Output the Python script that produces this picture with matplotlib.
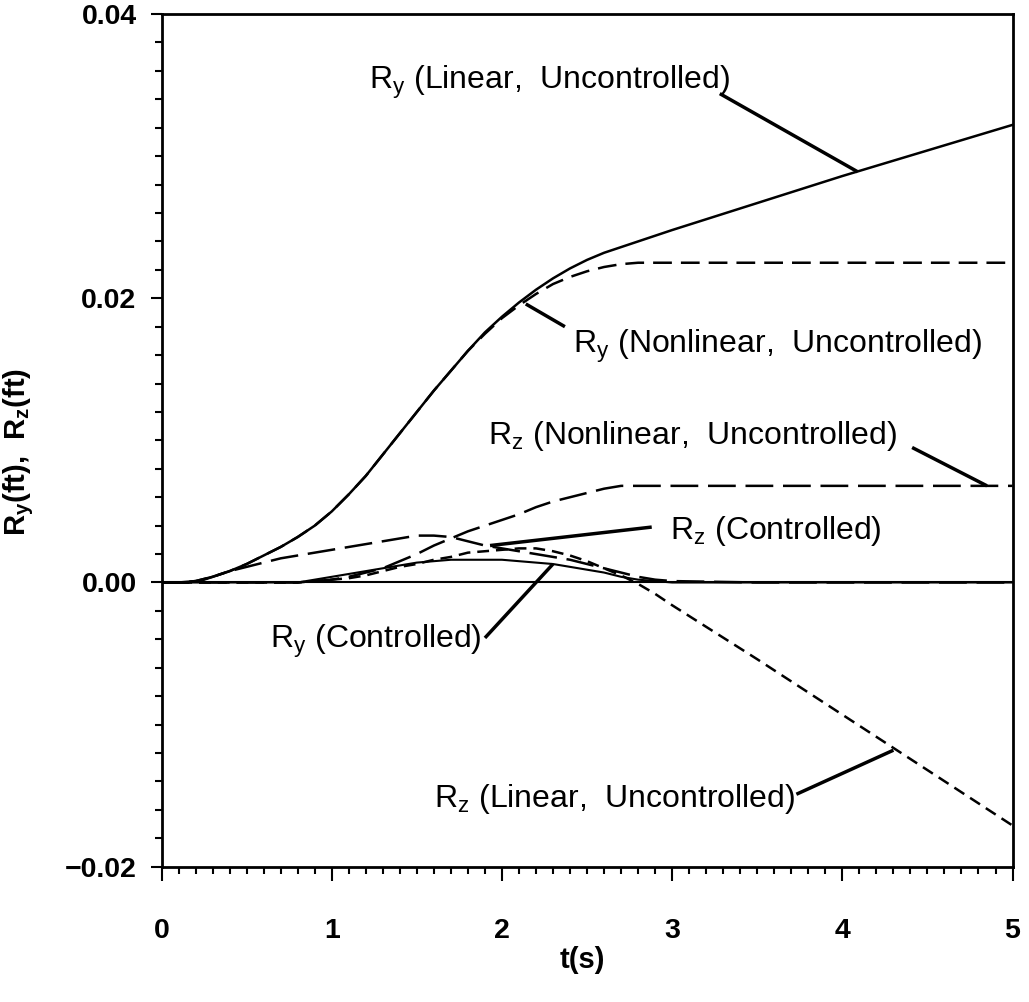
import numpy as np
import matplotlib
matplotlib.use("Agg")
import matplotlib.pyplot as plt
from matplotlib.ticker import MultipleLocator, FuncFormatter

plt.rcParams['font.family'] = ['Liberation Sans', 'DejaVu Sans']
plt.rcParams['mathtext.fontset'] = 'custom'
plt.rcParams['mathtext.rm'] = 'Liberation Sans'
plt.rcParams['lines.scale_dashes'] = False

# time samples (s)
t = [0.0, 0.1, 0.2, 0.3, 0.4, 0.5, 0.6, 0.7, 0.8, 0.9,
     1.0, 1.1, 1.2, 1.3, 1.4, 1.5, 1.6, 1.7, 1.8, 1.9,
     2.0, 2.1, 2.2, 2.3, 2.4, 2.5, 2.6, 2.7, 2.8, 2.9,
     3.0, 3.5, 4.0, 4.5, 5.0]

# Ry, linear model, no control
ry_lin = [0, 0, 0.0001, 0.0004, 0.0008, 0.0013, 0.0019, 0.0025, 0.0032, 0.0040,
          0.0050, 0.0062, 0.0075, 0.0090, 0.0105, 0.0120, 0.0135, 0.0149, 0.0163, 0.0176,
          0.0187, 0.0197, 0.0206, 0.0214, 0.0221, 0.0227, 0.0232, 0.0236, 0.0240, 0.0244,
          0.0248, 0.0267, 0.0286, 0.0304, 0.0322]

# Ry, nonlinear model, no control
ry_nl = [0, 0, 0.0001, 0.0004, 0.0008, 0.0013, 0.0019, 0.0025, 0.0032, 0.0040,
         0.0050, 0.0062, 0.0075, 0.0090, 0.0105, 0.0120, 0.0135, 0.0149, 0.0163, 0.0175,
         0.0186, 0.0195, 0.0203, 0.0210, 0.0215, 0.0219, 0.0222, 0.0224, 0.0225, 0.0225,
         0.0225, 0.0225, 0.0225, 0.0225, 0.0225]

# Rz, nonlinear model, no control
rz_nl = [0, 0, 0, 0, 0, 0, 0, 0, 0, 0.0001,
         0.0002, 0.0004, 0.0007, 0.0010, 0.0015, 0.0020, 0.0026, 0.0031, 0.0036, 0.0040,
         0.0044, 0.0048, 0.0053, 0.0057, 0.0060, 0.0063, 0.0066, 0.0068, 0.0068, 0.0068,
         0.0068, 0.0068, 0.0068, 0.0068, 0.0068]

# Rz, linear model, no control
rz_lin = [0, 0, 0, 0, 0, 0, 0, 0, 0, 0.0001,
          0.0002, 0.0003, 0.0005, 0.0008, 0.0011, 0.0013, 0.0016, 0.0018, 0.0021, 0.0022,
          0.0023, 0.0024, 0.0024, 0.0022, 0.0019, 0.0015, 0.0010, 0.0005, -0.0001, -0.0008,
          -0.0016, -0.0054, -0.0093, -0.0132, -0.0171]

# controlled responses
rz_ctrl = [0, 0, 0, 0.0004, 0.0008, 0.0011, 0.0014, 0.0017, 0.0019, 0.0021,
           0.0023, 0.0025, 0.0027, 0.0029, 0.0031, 0.0033, 0.0033, 0.0032, 0.0029, 0.0026,
           0.0024, 0.0022, 0.0020, 0.0018, 0.0016, 0.0013, 0.0010, 0.0007, 0.0004, 0.0002,
           0.0001, 0, 0, 0, 0]

ry_ctrl = [0, 0, 0, 0, 0, 0, 0, 0, 0, 0.0002,
           0.0004, 0.0006, 0.0008, 0.0010, 0.0012, 0.0014, 0.0015, 0.0016, 0.0016, 0.0016,
           0.0016, 0.0015, 0.0014, 0.0013, 0.0011, 0.0009, 0.0007, 0.0004, 0.0002, 0.0001,
           0, 0, 0, 0, 0]

fig = plt.figure(figsize=(10.29, 10.02), dpi=100)
ax = fig.add_axes([0.157, 0.135, 0.827, 0.851])

short = (0, (8.5, 5))
medium = (0, (13.5, 6.5))
long_ = (0, (20, 7))

ax.axhline(0, color='black', lw=1.5)
ax.plot(t, ry_lin, color='black', lw=1.8, ls='-')
ax.plot(t, ry_nl, color='black', lw=1.8, ls=medium)
ax.plot(t, rz_nl, color='black', lw=1.8, ls=long_)
ax.plot(t, rz_lin, color='black', lw=1.8, ls=short)
ax.plot(t, rz_ctrl, color='black', lw=1.8, ls=long_)
ax.plot(t, ry_ctrl, color='black', lw=1.5, ls='-')

ax.set_xlim(0, 5)
ax.set_ylim(-0.02, 0.04)
ax.xaxis.set_major_locator(MultipleLocator(1))
ax.xaxis.set_minor_locator(MultipleLocator(0.1))
ax.yaxis.set_major_locator(MultipleLocator(0.02))
ax.yaxis.set_minor_locator(MultipleLocator(0.002))
ax.yaxis.set_major_formatter(FuncFormatter(lambda v, p: f'{v:.2f}'.replace('-', '\u2212')))
ax.tick_params(which='both', direction='out', top=False, right=False,
               width=1.5, labelsize=20.5)
ax.tick_params(axis='x', which='major', length=10, pad=27)
ax.tick_params(axis='x', which='minor', length=5)
ax.tick_params(axis='y', which='major', length=8, pad=10)
ax.tick_params(axis='y', which='minor', length=5)
for lab in ax.get_xticklabels() + ax.get_yticklabels():
    lab.set_fontweight('bold')
for s in ax.spines.values():
    s.set_linewidth(2)

ax.set_xlabel('t(s)', fontsize=21, fontweight='bold')
ax.set_ylabel(r'R$_\mathregular{y}$(ft),  R$_\mathregular{z}$(ft)',
              fontsize=21, fontweight='bold')
ax.xaxis.set_label_coords(0.495, -0.093)
ax.yaxis.set_label_coords(-0.147, 0.486)

# curve labels: text, anchor, alignment, leader start, leader end
notes = [
    (r'R$_\mathregular{y}$ (Linear,  Uncontrolled)', (1.22, 0.0352), 'left', (3.28, 0.0344), (4.09, 0.0289)),
    (r'R$_\mathregular{y}$ (Nonlinear,  Uncontrolled)', (2.42, 0.0166), 'left', (2.37, 0.0180), (2.14, 0.0196)),
    (r'R$_\mathregular{z}$ (Nonlinear,  Uncontrolled)', (1.92, 0.0103), 'left', (4.41, 0.0095), (4.85, 0.0068)),
    (r'R$_\mathregular{z}$ (Controlled)', (2.99, 0.0036), 'left', (2.88, 0.0039), (1.93, 0.0026)),
    (r'R$_\mathregular{y}$ (Controlled)', (1.88, -0.0041), 'right', (1.90, -0.0039), (2.30, 0.0013)),
    (r'R$_\mathregular{z}$ (Linear,  Uncontrolled)', (1.60, -0.0152), 'left', (3.73, -0.0149), (4.30, -0.0118)),
]
for label, xy_text, align, p0, p1 in notes:
    ax.text(xy_text[0], xy_text[1], label, fontsize=23, ha=align, va='center')
    ax.plot([p0[0], p1[0]], [p0[1], p1[1]], color='black', lw=2.5, solid_capstyle='butt')

fig.savefig('out.png', dpi=100)
